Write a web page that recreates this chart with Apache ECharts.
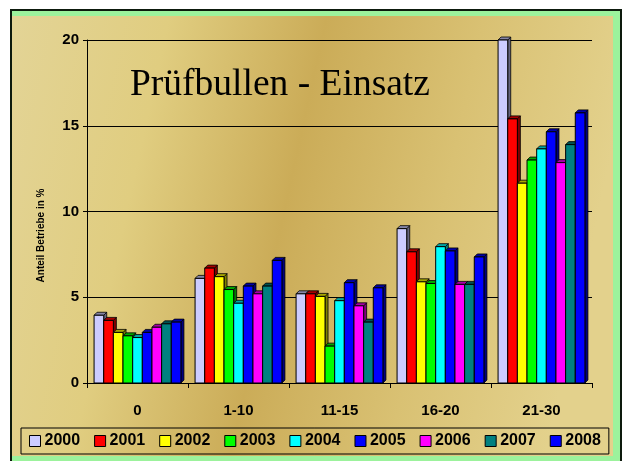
<!DOCTYPE html>
<html><head><meta charset="utf-8">
<script src="https://cdn.jsdelivr.net/npm/echarts@6/dist/echarts.min.js"></script>
<style>html,body{margin:0;padding:0;background:#fff;}#c{width:624px;height:461px;}</style>
</head><body><div id="c"></div>
<script>
var categories = ['0', '1-10', '11-15', '16-20', '21-30'];
var years = ['2000','2001','2002','2003','2004','2005','2006','2007','2008'];
var colors = ['#CCCCFF','#FF0000','#FFFF00','#00FF00','#00FFFF','#0000FF','#FF00FF','#008080','#0000FF'];
var v2000 = [3.95, 6.1, 5.2, 9.0, 20.0];
var v2001 = [3.65, 6.7, 5.2, 7.65, 15.4];
var v2002 = [2.95, 6.2, 5.05, 5.9, 11.65];
var v2003 = [2.75, 5.45, 2.15, 5.8, 13.0];
var v2004 = [2.65, 4.65, 4.8, 7.95, 13.65];
var v2005 = [2.95, 5.65, 5.85, 7.7, 14.65];
var v2006 = [3.25, 5.2, 4.5, 5.75, 12.85];
var v2007 = [3.45, 5.65, 3.55, 5.75, 13.9];
var v2008 = [3.55, 7.15, 5.55, 7.35, 15.75];
var seriesValues = [v2000, v2001, v2002, v2003, v2004, v2005, v2006, v2007, v2008];
var yTicks = [0, 5, 10, 15, 20];

function shade(hex, f) {
  var n = parseInt(hex.slice(1), 16);
  var r = Math.round(((n >> 16) & 255) * f), g = Math.round(((n >> 8) & 255) * f), b = Math.round((n & 255) * f);
  return 'rgb(' + r + ',' + g + ',' + b + ')';
}

var nSeries = years.length;
var groupFrac = 0.86;
var depth = 3;

var chart = echarts.init(document.getElementById('c'), null, {renderer: 'canvas'});
var series = years.map(function (y, i) {
  return {
    name: y, type: 'custom',
    itemStyle: {color: colors[i]},
    encode: {x: 0, y: 1},
    data: seriesValues[i].map(function (v, k) { return [k, v]; }),
    renderItem: function (params, api) {
      var cat = api.value(0), val = api.value(1);
      var top = api.coord([cat, val]);
      var base = api.coord([cat, 0]);
      var catW = api.size([1, 0])[0];
      var bw = catW * groupFrac / nSeries;
      var x = top[0] - catW * groupFrac / 2 + i * bw;
      var yT = top[1], yB = base[1];
      var d = depth;
      var c = colors[i];
      return {
        type: 'group',
        children: [
          {type: 'polygon', shape: {points: [[x + bw, yT], [x + bw + d, yT - d], [x + bw + d, yB - d], [x + bw, yB]]},
            style: {fill: shade(c, 0.5), stroke: '#000', lineWidth: 0.8}},
          {type: 'polygon', shape: {points: [[x, yT], [x + d, yT - d], [x + bw + d, yT - d], [x + bw, yT]]},
            style: {fill: shade(c, 0.65), stroke: '#000', lineWidth: 0.8}},
          {type: 'rect', shape: {x: x, y: yT, width: bw, height: yB - yT},
            style: {fill: c, stroke: '#000', lineWidth: 1}}
        ]
      };
    }
  };
});
chart.setOption({
  animation: false,
  backgroundColor: '#fff',
  graphic: [
    {type: 'rect', z: -10, shape: {x: 11, y: 10, width: 610, height: 452}, style: {fill: '#9CF29C', stroke: '#0d1a0d', lineWidth: 2}},
    {type: 'rect', z: -9, shape: {x: 12, y: 16, width: 601, height: 440},
      style: {fill: new echarts.graphic.LinearGradient(0, 0, 1, 0.3, [
        {offset: 0, color: '#E3D496'},
        {offset: 0.25, color: '#E0CD80'},
        {offset: 0.5, color: '#CBAC58'},
        {offset: 0.75, color: '#D9C173'},
        {offset: 1, color: '#E3D18C'}
      ])}},
    {type: 'text', z: 10, left: 130, top: 66, style: {text: 'Prüfbullen - Einsatz', font: '37.5px "Liberation Serif", "Times New Roman", serif', fill: '#000'}}
  ],
  legend: {
    data: years, left: 21, top: 428, padding: [5, 8, 5, 8],
    itemWidth: 11, itemHeight: 11, itemGap: 14,
    borderColor: '#000', borderWidth: 1,
    icon: 'rect',
    itemStyle: {borderColor: '#000', borderWidth: 1},
    textStyle: {fontFamily: 'Liberation Sans, Arial, sans-serif', fontWeight: 'bold', fontSize: 16, color: '#000', padding: [0,0,0,-1]}
  },
  grid: {left: 87, right: 32, top: 40, bottom: 78, containLabel: false},
  xAxis: {
    type: 'category', data: categories,
    axisLine: {lineStyle: {color: '#000', width: 1}},
    axisTick: {show: true, length: 5, lineStyle: {color: '#000'}},
    axisLabel: {margin: 20, color: '#000', fontFamily: 'Liberation Sans, Arial, sans-serif', fontWeight: 'bold', fontSize: 15}
  },
  yAxis: {
    type: 'value', min: yTicks[0], max: yTicks[yTicks.length - 1], interval: 5,
    name: 'Anteil Betriebe in %', nameLocation: 'middle', nameGap: 41, nameRotate: 90,
    nameTextStyle: {color: '#000', fontFamily: 'Liberation Sans, Arial, sans-serif', fontWeight: 'bold', fontSize: 10, padding: [0, 48, 0, 0]},
    axisLine: {show: true, lineStyle: {color: '#000', width: 1}},
    axisTick: {show: true, length: 4, lineStyle: {color: '#000'}},
    splitLine: {show: true, lineStyle: {color: '#000', width: 1}},
    axisLabel: {margin: 8, color: '#000', fontFamily: 'Liberation Sans, Arial, sans-serif', fontWeight: 'bold', fontSize: 15}
  },
  series: series
});
</script></body></html>
